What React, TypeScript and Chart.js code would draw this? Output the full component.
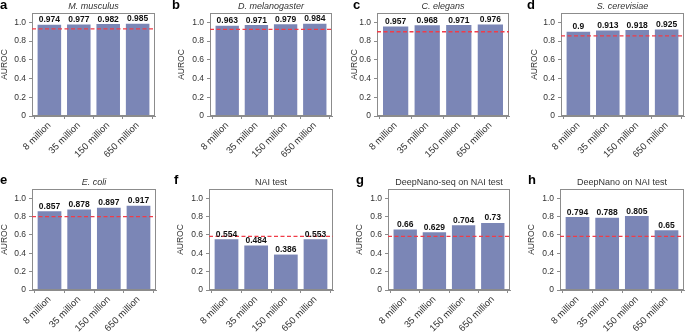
import React, { useEffect, useRef } from "react";
import { Chart, registerables } from "chart.js";

Chart.register(...registerables);

// ---------- DATA ----------
const categories = ["8 million", "35 million", "150 million", "650 million"];
const yTicks = [0, 0.2, 0.4, 0.6, 0.8, 1.0];
const yTickLabels = ["0", "0.2", "0.4", "0.6", "0.8", "1.0"];
const panelLetters = ["a", "b", "c", "d", "e", "f", "g", "h"];
const panelTitles = [
  "M. musculus",
  "D. melanogaster",
  "C. elegans",
  "S. cerevisiae",
  "E. coli",
  "NAI test",
  "DeepNano-seq on NAI test",
  "DeepNano on NAI test",
];
const titleItalic = [true, true, true, true, true, false, false, false];

const musculusValues = [0.974, 0.977, 0.982, 0.985];
const melanogasterValues = [0.963, 0.971, 0.979, 0.984];
const elegansValues = [0.957, 0.968, 0.971, 0.976];
const cerevisiaeValues = [0.9, 0.913, 0.918, 0.925];
const coliValues = [0.857, 0.878, 0.897, 0.917];
const naiTestValues = [0.554, 0.484, 0.386, 0.553];
const deepNanoSeqValues = [0.66, 0.629, 0.704, 0.73];
const deepNanoValues = [0.794, 0.788, 0.805, 0.65];

const seriesValues = [
  musculusValues,
  melanogasterValues,
  elegansValues,
  cerevisiaeValues,
  coliValues,
  naiTestValues,
  deepNanoSeqValues,
  deepNanoValues,
];

// Baseline (red dashed) values
const thresholds = [0.93, 0.925, 0.9, 0.855, 0.8, 0.585, 0.585, 0.585];

// ---------- LAYOUT / STYLE ----------
// plot rectangles [left, top, right, bottom]
const plotRects = [
  [32, 13, 155, 116],
  [210, 13, 332, 116],
  [377, 13, 509, 116],
  [561, 13, 684, 116],
  [32, 189, 156, 290],
  [209, 189, 333, 290],
  [388, 189, 510, 290],
  [560, 189, 684, 290],
];
const letterPos = [
  [0, -2],
  [172, -2],
  [353, -2],
  [527, -2],
  [0, 173],
  [174, 173],
  [356, 173],
  [528, 173],
];
const yTitleOffset = [27, 28, 22, 26, 27, 28, 28, 28];

const Y_W = 40;
const PAD_TOP = 14;
const PAD_RIGHT = 1;
const X_H = 50;

const FONT = "'Liberation Sans', Arial, Helvetica, sans-serif";
const BAR = "#7b86b6";
const AXIS = "#8c8c8c";
const RED = "#f03c48";
const TEXT = "#333333";

function makeChart(canvas: HTMLCanvasElement, i: number) {
  const values = seriesValues[i];
  const data = values.map((v, k) => ({ x: k, y: v }));
  const deco = {
    id: "panelDeco",
    afterDatasetsDraw(chart: any) {
      const { ctx, chartArea: a, scales } = chart;
      ctx.save();
      // box
      ctx.setLineDash([]);
      ctx.strokeStyle = AXIS;
      ctx.lineWidth = 1;
      ctx.strokeRect(a.left + 0.5, a.top + 0.5, a.right - a.left - 1, a.bottom - a.top - 1);
      // threshold
      const y = scales.y.getPixelForValue(thresholds[i]);
      ctx.strokeStyle = RED;
      ctx.lineWidth = 1.3;
      ctx.setLineDash([4, 2.5]);
      ctx.beginPath();
      ctx.moveTo(a.left, y);
      ctx.lineTo(a.right, y);
      ctx.stroke();
      ctx.setLineDash([]);
      // value labels
      const meta = chart.getDatasetMeta(0);
      ctx.fillStyle = "#111";
      ctx.font = `bold 8.5px ${FONT}`;
      ctx.textAlign = "center";
      ctx.textBaseline = "alphabetic";
      meta.data.forEach((bar: any, k: number) => {
        ctx.fillText(String(values[k]), bar.x, bar.y - 2.5);
      });
      // title
      ctx.fillStyle = TEXT;
      ctx.font = `${titleItalic[i] ? "italic " : ""}9px ${FONT}`;
      ctx.fillText(panelTitles[i], (a.left + a.right) / 2, a.top - 4);
      // y title
      ctx.translate(a.left - yTitleOffset[i], (a.top + a.bottom) / 2);
      ctx.rotate(-Math.PI / 2);
      ctx.font = `8.5px ${FONT}`;
      ctx.textBaseline = "middle";
      ctx.fillText("AUROC", 0, 0);
      ctx.restore();
    },
  };

  return new Chart(canvas, {
    type: "bar",
    data: {
      datasets: [
        {
          data,
          backgroundColor: BAR,
          borderWidth: 0,
          barPercentage: 0.8,
          categoryPercentage: 1,
        } as any,
      ],
    },
    plugins: [deco],
    options: {
      animation: false,
      responsive: false,
      maintainAspectRatio: false,
      devicePixelRatio: 1,
      layout: { padding: { top: PAD_TOP, right: PAD_RIGHT, left: 0, bottom: 0 } },
      plugins: {
        legend: { display: false },
        tooltip: { enabled: false },
        title: { display: false },
      },
      scales: {
        x: {
          type: "linear",
          min: -0.59,
          max: 3.59,
          offset: false,
          afterBuildTicks: (s: any) => {
            s.ticks = categories.map((_, k) => ({ value: k }));
          },
          afterFit: (s: any) => {
            s.height = X_H;
          },
          ticks: {
            autoSkip: false,
            minRotation: 45,
            maxRotation: 45,
            padding: 1,
            color: TEXT,
            font: { family: FONT, size: 9.5 },
            callback: (_v: any, idx: number) => categories[idx],
          },
          grid: {
            display: true,
            drawOnChartArea: false,
            drawTicks: true,
            tickLength: 3,
            color: AXIS,
          },
          border: { display: true, color: AXIS },
        },
        y: {
          min: 0,
          max: 1.1,
          afterBuildTicks: (s: any) => {
            s.ticks = yTicks.map((v) => ({ value: v }));
          },
          afterFit: (s: any) => {
            s.width = Y_W;
          },
          ticks: {
            padding: 3,
            color: TEXT,
            font: { family: FONT, size: 8.5 },
            callback: (_v: any, idx: number) => yTickLabels[idx],
          },
          grid: {
            display: true,
            drawOnChartArea: false,
            drawTicks: true,
            tickLength: 3,
            color: AXIS,
          },
          border: { display: true, color: AXIS },
        },
      },
    } as any,
  });
}

function Panel({ index }: { index: number }) {
  const ref = useRef<HTMLCanvasElement | null>(null);
  const [L, T, R, B] = plotRects[index];
  const w = R - L + Y_W + PAD_RIGHT;
  const h = B - T + PAD_TOP + X_H;
  useEffect(() => {
    if (!ref.current) return;
    const chart = makeChart(ref.current, index);
    return () => chart.destroy();
  }, [index]);
  return (
    <canvas
      ref={ref}
      width={w}
      height={h}
      style={{ position: "absolute", left: L - Y_W, top: T - PAD_TOP, width: w, height: h }}
    />
  );
}

export default function App() {
  return (
    <div
      style={{
        position: "fixed",
        left: 0,
        top: 0,
        width: 685,
        height: 332,
        background: "#fff",
        overflow: "hidden",
      }}
    >
      {panelLetters.map((_, i) => (
        <Panel key={i} index={i} />
      ))}
      {panelLetters.map((l, i) => (
        <div
          key={"l" + i}
          style={{
            position: "absolute",
            left: letterPos[i][0],
            top: letterPos[i][1],
            font: `bold 13px ${FONT}`,
            lineHeight: "13px",
            color: "#000",
          }}
        >
          {l}
        </div>
      ))}
    </div>
  );
}
